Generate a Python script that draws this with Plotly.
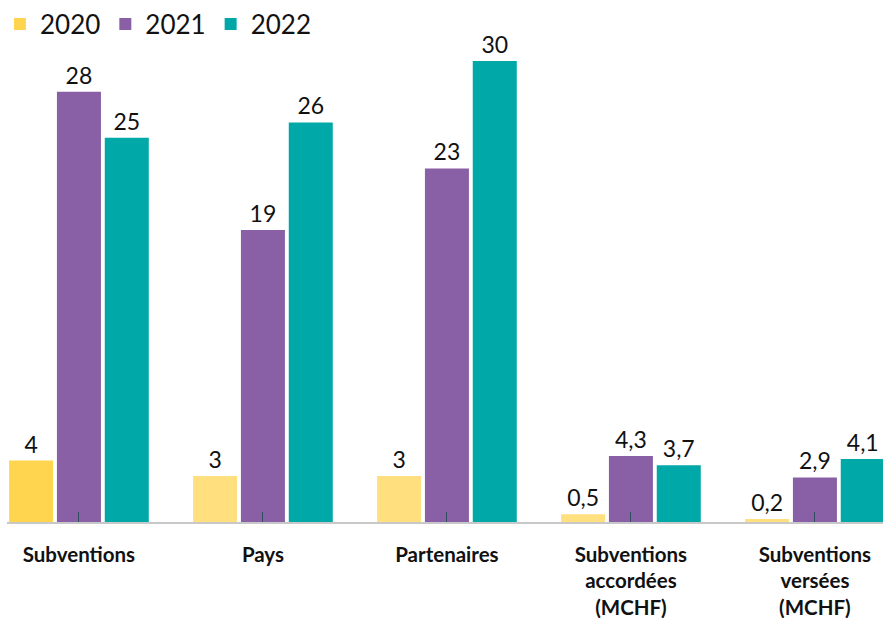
import plotly.graph_objects as go

categories = ["Subventions", "Pays", "Partenaires",
              "Subventions<br>accordées<br>(MCHF)", "Subventions<br>versées<br>(MCHF)"]
years = ["2020", "2021", "2022"]
v2020 = [4, 3, 3, 0.5, 0.2]
v2021 = [28, 19, 23, 4.3, 2.9]
v2022 = [25, 26, 30, 3.7, 4.1]

c2020 = ["#FFD54F", "#FFDF7E", "#FFDF7E", "#FFDF7E", "#FFDF7E"]
c2021 = "#8960A5"
c2022 = "#00A8A8"

fig = go.Figure()
for name, vals, col in [(years[0], v2020, c2020), (years[1], v2021, c2021), (years[2], v2022, c2022)]:
    fig.add_trace(go.Bar(
        x=list(range(len(categories))), y=vals, name=name,
        marker=dict(color=col, line=dict(width=0)),
        text=vals, texttemplate="%{y}", textposition="outside",
        textfont=dict(size=23, color="#111111", family="Lato"),
        cliponaxis=False,
    ))

fig.update_layout(
    width=883, height=618,
    margin=dict(l=7, r=0, t=40, b=96, autoexpand=False),
    paper_bgcolor="white", plot_bgcolor="white",
    font=dict(family="Lato", color="#111111"),
    separators=", ",
    barmode="group", bargap=0.22, bargroupgap=0.08,
    showlegend=True,
    legend=dict(orientation="h", x=-0.008, y=1.033, xanchor="left", yanchor="middle",
                font=dict(size=26, family="Lato", color="#111111"),
                itemwidth=30, traceorder="normal"),
    xaxis=dict(
        tickmode="array", tickvals=list(range(len(categories))),
        ticktext=["<b>" + c.replace("<br>", "</b><br><b>") + "</b>" for c in categories],
        tickfont=dict(size=20.5, family="Lato", color="#111111"),
        ticklabelstandoff=13,
        range=[-0.391, 4.370],
        showline=True, linecolor="#C8C8C8", linewidth=2,
        ticks="inside", ticklen=10, tickcolor="#2F4F5F", tickwidth=1,
        showgrid=False, zeroline=False, fixedrange=True,
    ),
    yaxis=dict(range=[0, 31.36], visible=False, showgrid=False, zeroline=False),
)

fig.write_html("out.html")
